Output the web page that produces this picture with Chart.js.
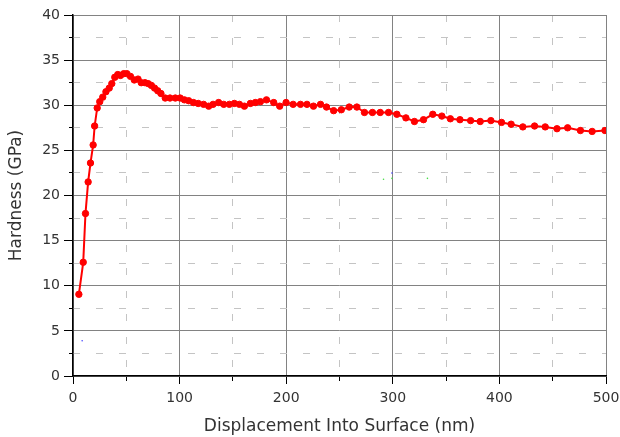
<!DOCTYPE html>
<html><head><meta charset="utf-8">
<script src="https://cdn.jsdelivr.net/npm/chart.js@4.4.0/dist/chart.umd.min.js"></script>
<style>html,body{margin:0;padding:0;background:#fff;}#wrap{width:620px;height:437px;position:relative;}</style>
</head><body><div id="wrap"><canvas id="c" width="620" height="437"></canvas></div>
<script>
const displacement = [5.5, 9.6, 11.7, 14.2, 16.4, 18.9, 20.3, 22.7, 25.1, 27.9, 30.9, 34.0, 36.4, 39.2, 42.0, 44.5, 47.6, 50.5, 53.9, 57.5, 61.0, 64.0, 67.5, 70.5, 73.5, 76.5, 79.5, 82.5, 86.5, 91.0, 96.0, 100.5, 104.5, 108.5, 113.0, 117.5, 122.5, 127.3, 131.4, 136.6, 141.4, 146.7, 151.4, 156.1, 160.8, 166.4, 171.1, 175.8, 181.5, 188.3, 193.9, 199.9, 206.5, 213.4, 219.5, 225.6, 232.2, 237.8, 244.5, 251.7, 259.1, 266.3, 273.4, 280.9, 288.2, 296.0, 303.8, 312.3, 320.3, 328.8, 337.5, 346.0, 354.0, 363, 373, 382, 392, 402, 411, 422, 433, 443, 454, 464, 476, 487, 499];
const hardness = [9.05, 12.6, 18.0, 21.5, 23.6, 25.6, 27.7, 29.7, 30.4, 30.9, 31.5, 31.9, 32.4, 33.1, 33.4, 33.3, 33.5, 33.5, 33.2, 32.8, 32.9, 32.5, 32.5, 32.4, 32.2, 31.9, 31.6, 31.3, 30.8, 30.8, 30.8, 30.8, 30.6, 30.5, 30.3, 30.2, 30.1, 29.9, 30.1, 30.3, 30.1, 30.1, 30.2, 30.1, 29.9, 30.2, 30.3, 30.4, 30.6, 30.3, 29.9, 30.3, 30.1, 30.1, 30.1, 29.9, 30.1, 29.8, 29.4, 29.5, 29.8, 29.8, 29.2, 29.2, 29.2, 29.2, 29.0, 28.6, 28.2, 28.4, 29.0, 28.8, 28.5, 28.4, 28.3, 28.2, 28.3, 28.1, 27.9, 27.6, 27.7, 27.6, 27.4, 27.5, 27.2, 27.1, 27.2];
const strayX = [8.6, 291.3, 299.2, 299.2, 332.5];
const strayY = [3.9, 21.8, 21.9, 22.5, 21.9];
const strayColors = ['#4444ff', '#44dd44', '#44dd44', '#4444ff', '#44dd44'];
const xMajorTicks = [0, 100, 200, 300, 400, 500];
const xMinorTicks = [50, 150, 250, 350, 450];
const yMajorTicks = [0, 5, 10, 15, 20, 25, 30, 35, 40];
const yMinorTicks = [2.5, 7.5, 12.5, 17.5, 22.5, 27.5, 32.5, 37.5];
const xTitle = 'Displacement Into Surface (nm)';
const yTitle = 'Hardness (GPa)';

const tickFont = {family: 'DejaVu Sans', size: 14};
const titleFont = {family: 'DejaVu Sans', size: 17};
const textColor = '#333';
const majorGrid = '#828282';
const minorGrid = '#c4c4c4';
const minorDash = [7, 16];

function noPad(s) { s.paddingLeft = 0; s.paddingRight = 0; s.paddingTop = 0; s.paddingBottom = 0; }

new Chart(document.getElementById('c'), {
  type: 'line',
  data: {
    datasets: [{
      data: displacement.map((x, i) => ({x: x, y: hardness[i]})),
      borderColor: '#ff0000',
      backgroundColor: '#ff0000',
      borderWidth: 2,
      pointRadius: 3.2,
      pointBorderWidth: 1,
      pointBackgroundColor: '#ff0000',
      pointBorderColor: '#ff0000',
      tension: 0,
      xAxisID: 'x', yAxisID: 'y'
    }, {
      type: 'scatter',
      data: strayX.map((x, i) => ({x: x, y: strayY[i]})),
      pointRadius: 0.8,
      pointBorderWidth: 0,
      pointBackgroundColor: strayColors,
      showLine: false,
      xAxisID: 'x', yAxisID: 'y'
    }]
  },
  options: {
    responsive: false,
    animation: false,
    devicePixelRatio: 1,
    layout: {padding: {top: 15, right: 14, left: 0, bottom: 0}},
    plugins: {legend: {display: false}, tooltip: {enabled: false}},
    scales: {
      x: {
        type: 'linear', position: 'bottom', min: 0, max: 500, weight: 10,
        afterBuildTicks: s => { s.ticks = xMajorTicks.map(v => ({value: v})); },
        afterFit: s => { s.height = 61; noPad(s); },
        grid: {color: majorGrid, lineWidth: 1, tickLength: 8, tickColor: '#000'},
        border: {color: '#000', width: 1.5},
        ticks: {font: tickFont, color: textColor, padding: 6, maxRotation: 0, autoSkip: false},
        title: {display: true, text: xTitle, font: titleFont, color: textColor, padding: {top: 0, bottom: 0}}
      },
      xMinor: {
        type: 'linear', position: 'bottom', min: 0, max: 500, weight: 0,
        afterBuildTicks: s => { s.ticks = xMinorTicks.map(v => ({value: v})); },
        afterFit: s => { s.height = 0; noPad(s); },
        grid: {color: minorGrid, lineWidth: 1, tickLength: 5, tickColor: '#000'},
        border: {display: false, dash: minorDash},
        ticks: {display: false}
      },
      y: {
        type: 'linear', position: 'left', min: 0, max: 40, weight: 10,
        afterBuildTicks: s => { s.ticks = yMajorTicks.map(v => ({value: v})); },
        afterFit: s => { s.width = 73; noPad(s); },
        grid: {color: majorGrid, lineWidth: 1, tickLength: 9, tickColor: '#000'},
        border: {color: '#000', width: 1.5},
        ticks: {font: tickFont, color: textColor, padding: 4, autoSkip: false},
        title: {display: true, text: yTitle, font: titleFont, color: textColor, padding: {top: 6, bottom: 0}}
      },
      yMinor: {
        type: 'linear', position: 'left', min: 0, max: 40, weight: 0,
        afterBuildTicks: s => { s.ticks = yMinorTicks.map(v => ({value: v})); },
        afterFit: s => { s.width = 0; noPad(s); },
        grid: {color: minorGrid, lineWidth: 1, tickLength: 4, tickColor: '#000'},
        border: {display: false, dash: minorDash},
        ticks: {display: false}
      }
    }
  }
});
</script></body></html>
